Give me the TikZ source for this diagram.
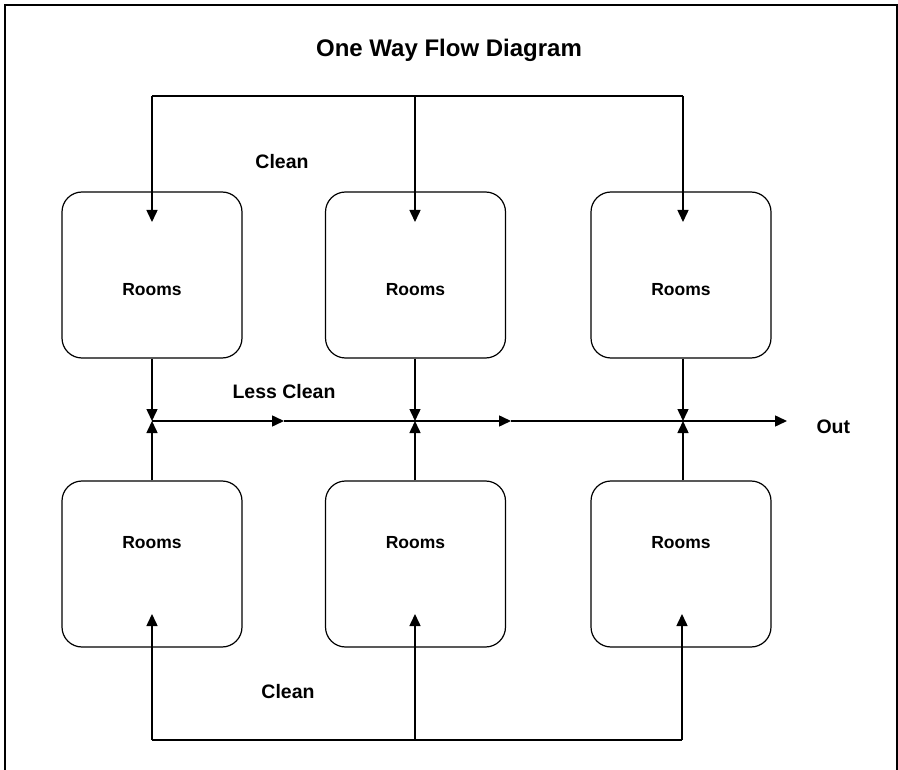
\documentclass[tikz,border=0pt]{standalone}
\usepackage{fontspec}
\setmainfont{Liberation Sans}
\usetikzlibrary{arrows.meta}
\begin{document}
\begin{tikzpicture}[x=1pt,y=-1pt,
  room/.style={draw,line width=1.2pt,rounded corners=20pt,minimum width=180pt,minimum height=166pt,inner sep=0pt},
  roomlbl/.style={font=\bfseries\fontsize{17.5}{20}\selectfont},
  lbl/.style={font=\bfseries\fontsize{19.5}{23}\selectfont},
  flow/.style={line width=1.5pt},
  tip/.style={-{Triangle[length=12pt,width=11pt]}},
  frame/.style={line width=2pt}]
  \useasboundingbox (0,0) rectangle (898,770);
  % outer frame (open at the bottom)
  \draw[frame] (5,770) -- (5,5) -- (896.5,5) -- (896.5,770);
  % title
  \node[font=\bfseries\fontsize{24}{28}\selectfont] (title) at (449,50) {One Way Flow Diagram};
  % rooms, upper row
  \node[room] (r1) at (152,275) {};
  \node[room] (r2) at (415.5,275) {};
  \node[room] (r3) at (681,275) {};
  % rooms, lower row
  \node[room] (r4) at (152,564) {};
  \node[room] (r5) at (415.5,564) {};
  \node[room] (r6) at (681,564) {};
  % room labels
  \node[roomlbl] (l1) at (152,290) {Rooms};
  \node[roomlbl] (l2) at (415.5,290) {Rooms};
  \node[roomlbl] (l3) at (681,290) {Rooms};
  \node[roomlbl] (l4) at (152,543) {Rooms};
  \node[roomlbl] (l5) at (415.5,543) {Rooms};
  \node[roomlbl] (l6) at (681,543) {Rooms};
  % flow labels
  \node[lbl] (cleantop) at (282,162) {Clean};
  \node[lbl] (lessclean) at (284,392) {Less Clean};
  \node[lbl] (cleanbot) at (288,692) {Clean};
  \node[lbl, anchor=west] (out) at (813,427) {Out};
  % junction points
  \coordinate (t1) at (152,96);  \coordinate (t2) at (415,96);  \coordinate (t3) at (683,96);
  \coordinate (a1) at (152,222); \coordinate (a2) at (415,222); \coordinate (a3) at (683,222);
  \coordinate (j1) at (152,421); \coordinate (j2) at (415,421); \coordinate (j3) at (683,421);
  \coordinate (m1) at (284,421); \coordinate (m2) at (511,421); \coordinate (e) at (787,421);
  \coordinate (b1) at (152,740); \coordinate (b2) at (415,740); \coordinate (b3) at (682,740);
  \coordinate (c1) at (152,614); \coordinate (c2) at (415,614); \coordinate (c3) at (682,614);
  % clean supply from above
  \draw[flow] (t1) -- (t3);
  \draw[flow,tip] (t1) -- (a1);
  \draw[flow,tip] (t2) -- (a2);
  \draw[flow,tip] (t3) -- (a3);
  % clean supply from below
  \draw[flow] (b1) -- (b3);
  \draw[flow,tip] (b1) -- (c1);
  \draw[flow,tip] (b2) -- (c2);
  \draw[flow,tip] (b3) -- (c3);
  % rooms discharging into the less-clean corridor
  \draw[flow,tip] (r1.south) -- (j1);
  \draw[flow,tip] (r2.south -| j2) -- (j2);
  \draw[flow,tip] (r3.south -| j3) -- (j3);
  \draw[flow,tip] (r4.north) -- (j1);
  \draw[flow,tip] (r5.north -| j2) -- (j2);
  \draw[flow,tip] (r6.north -| j3) -- (j3);
  % less-clean corridor towards the exit
  \draw[flow,tip] (j1) -- (m1);
  \draw[flow,tip] (m1) -- (m2);
  \draw[flow,tip] (m2) -- (e);
\end{tikzpicture}
\end{document}
